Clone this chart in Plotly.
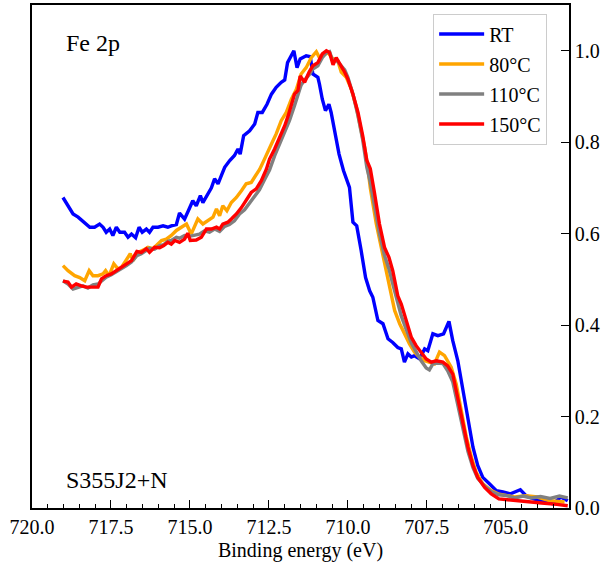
import plotly.graph_objects as go

# ---------------- data ----------------
energy_rt = [719.02, 718.86, 718.70, 718.54, 718.39, 718.28, 718.17, 718.02, 717.86, 717.75,
             717.65, 717.54, 717.44, 717.33, 717.22, 717.07, 716.96, 716.85, 716.72, 716.61,
             716.51, 716.38, 716.28, 716.17, 716.01, 715.85, 715.70, 715.59, 715.43, 715.33,
             715.17, 715.05, 714.91, 714.80, 714.67, 714.59, 714.43, 714.32, 714.22, 714.11,
             714.00, 713.90, 713.74, 713.59, 713.48, 713.41, 713.30, 713.11, 712.95, 712.85,
             712.71, 712.56, 712.42, 712.27, 712.11, 712.00, 711.91, 711.79, 711.71, 711.61,
             711.51, 711.32, 711.19, 711.11, 710.95, 710.90, 710.81, 710.71, 710.60, 710.53,
             710.42, 710.28, 710.14, 709.95, 709.84, 709.72, 709.58, 709.44, 709.31, 709.21,
             709.05, 708.89, 708.73, 708.58, 708.42, 708.31, 708.21, 708.10, 707.99, 707.89,
             707.73, 707.57, 707.47, 707.31, 707.15, 706.97, 706.80, 706.68, 706.52, 706.36,
             706.20, 706.04, 705.89, 705.73, 705.52, 705.30, 705.09, 704.85, 704.54, 704.36,
             704.12, 703.87, 703.50, 703.26, 703.04]
rt = [0.679, 0.661, 0.643, 0.636, 0.628, 0.621, 0.614, 0.614, 0.621, 0.614,
      0.603, 0.610, 0.596, 0.614, 0.603, 0.603, 0.592, 0.599, 0.591, 0.614,
      0.603, 0.610, 0.603, 0.614, 0.614, 0.617, 0.614, 0.617, 0.620, 0.645,
      0.632, 0.650, 0.672, 0.661, 0.683, 0.668, 0.687, 0.700, 0.720, 0.709,
      0.728, 0.745, 0.760, 0.771, 0.785, 0.774, 0.814, 0.825, 0.840, 0.865,
      0.865, 0.883, 0.905, 0.920, 0.931, 0.936, 0.974, 0.989, 1.000, 0.963,
      0.982, 0.989, 0.987, 0.949, 0.942, 0.927, 0.894, 0.869, 0.883, 0.865,
      0.821, 0.774, 0.738, 0.701, 0.625, 0.617, 0.563, 0.504, 0.475, 0.461,
      0.410, 0.403, 0.370, 0.362, 0.351, 0.348, 0.319, 0.337, 0.330, 0.333,
      0.326, 0.348, 0.344, 0.381, 0.377, 0.381, 0.408, 0.366, 0.322, 0.257,
      0.191, 0.133, 0.093, 0.067, 0.053, 0.038, 0.035, 0.031, 0.040, 0.027,
      0.020, 0.016, 0.009, 0.024, 0.016]

energy_80 = [719.02, 718.86, 718.65, 718.49, 718.33, 718.19, 718.07, 717.91, 717.75, 717.67,
             717.56, 717.41, 717.28, 717.17, 717.03, 716.89, 716.80, 716.64, 716.48, 716.33,
             716.17, 716.06, 715.90, 715.75, 715.59, 715.43, 715.27, 715.11, 714.96, 714.75,
             714.59, 714.43, 714.27, 714.16, 714.06, 713.96, 713.83, 713.69, 713.53, 713.37,
             713.22, 713.06, 712.92, 712.79, 712.64, 712.53, 712.42, 712.27, 712.11, 711.95,
             711.79, 711.63, 711.48, 711.32, 711.16, 711.00, 710.90, 710.79, 710.63, 710.47,
             710.32, 710.21, 710.05, 709.89, 709.73, 709.58, 709.47, 709.37, 709.29, 709.10,
             708.94, 708.79, 708.68, 708.52, 708.36, 708.21, 708.05, 707.89, 707.73, 707.57,
             707.41, 707.26, 707.10, 706.94, 706.73, 706.57, 706.41, 706.25, 706.09, 705.94,
             705.73, 705.46, 705.25, 704.98, 704.72, 704.36, 704.00, 703.63, 703.14]
c80 = [0.530, 0.519, 0.508, 0.504, 0.497, 0.519, 0.508, 0.508, 0.512, 0.519,
       0.508, 0.534, 0.523, 0.526, 0.541, 0.556, 0.541, 0.559, 0.564, 0.570,
       0.567, 0.574, 0.585, 0.588, 0.596, 0.607, 0.614, 0.621, 0.599, 0.632,
       0.621, 0.628, 0.636, 0.654, 0.639, 0.661, 0.650, 0.668, 0.679, 0.694,
       0.709, 0.712, 0.727, 0.741, 0.763, 0.781, 0.796, 0.818, 0.847, 0.865,
       0.894, 0.916, 0.949, 0.963, 0.985, 0.998, 0.985, 0.989, 0.996, 0.982,
       0.978, 0.953, 0.942, 0.916, 0.876, 0.825, 0.789, 0.745, 0.700, 0.621,
       0.570, 0.519, 0.483, 0.432, 0.403, 0.381, 0.359, 0.341, 0.330, 0.322,
       0.319, 0.315, 0.341, 0.333, 0.308, 0.271, 0.213, 0.155, 0.111, 0.078,
       0.053, 0.038, 0.031, 0.028, 0.024, 0.027, 0.024, 0.016, 0.013]

energy_110 = [719.02, 718.86, 718.70, 718.55, 718.39, 718.23, 718.07, 717.91, 717.80, 717.65,
              717.49, 717.33, 717.17, 717.01, 716.85, 716.68, 716.54, 716.38, 716.28, 716.12,
              715.96, 715.83, 715.70, 715.59, 715.43, 715.33, 715.17, 715.02, 714.86, 714.70,
              714.54, 714.38, 714.22, 714.06, 713.90, 713.75, 713.59, 713.43, 713.27, 713.11,
              712.95, 712.80, 712.64, 712.48, 712.32, 712.16, 712.00, 711.85, 711.69, 711.58,
              711.48, 711.37, 711.23, 711.11, 710.95, 710.81, 710.68, 710.58, 710.47, 710.37,
              710.24, 710.10, 710.00, 709.84, 709.68, 709.53, 709.40, 709.29, 709.16, 709.00,
              708.84, 708.70, 708.58, 708.42, 708.31, 708.15, 707.99, 707.84, 707.68, 707.52,
              707.42, 707.31, 707.20, 706.99, 706.84, 706.68, 706.52, 706.36, 706.20, 706.04,
              705.89, 705.67, 705.46, 705.22, 704.97, 704.72, 704.45, 704.20, 703.90, 703.60,
              703.30, 703.04]
c110 = [0.497, 0.490, 0.479, 0.483, 0.486, 0.481, 0.488, 0.490, 0.497, 0.505,
        0.510, 0.516, 0.523, 0.530, 0.538, 0.552, 0.556, 0.563, 0.568, 0.566,
        0.574, 0.576, 0.583, 0.585, 0.592, 0.590, 0.596, 0.594, 0.597, 0.599,
        0.606, 0.603, 0.610, 0.605, 0.616, 0.620, 0.628, 0.643, 0.652, 0.668,
        0.683, 0.696, 0.718, 0.739, 0.770, 0.796, 0.823, 0.847, 0.880, 0.901,
        0.925, 0.936, 0.947, 0.960, 0.967, 0.985, 0.996, 0.998, 0.976, 0.980,
        0.969, 0.958, 0.942, 0.905, 0.858, 0.805, 0.745, 0.712, 0.662, 0.600,
        0.552, 0.523, 0.490, 0.447, 0.420, 0.390, 0.361, 0.342, 0.322, 0.306,
        0.302, 0.315, 0.317, 0.316, 0.300, 0.276, 0.228, 0.172, 0.124, 0.088,
        0.065, 0.048, 0.036, 0.029, 0.027, 0.022, 0.026, 0.022, 0.025, 0.021,
        0.026, 0.022]

energy_150 = [719.02, 718.86, 718.75, 718.60, 718.44, 718.28, 718.12, 717.91, 717.80, 717.65,
              717.49, 717.33, 717.17, 717.01, 716.85, 716.68, 716.54, 716.38, 716.28, 716.12,
              715.96, 715.83, 715.70, 715.59, 715.48, 715.33, 715.17, 715.07, 714.99, 714.80,
              714.64, 714.48, 714.32, 714.16, 714.06, 713.96, 713.80, 713.69, 713.53, 713.37,
              713.22, 713.06, 712.90, 712.74, 712.58, 712.48, 712.32, 712.16, 712.00, 711.89,
              711.79, 711.69, 711.58, 711.51, 711.37, 711.23, 711.11, 710.95, 710.81, 710.68,
              710.58, 710.47, 710.37, 710.24, 710.10, 710.00, 709.84, 709.68, 709.53, 709.40,
              709.29, 709.16, 709.00, 708.84, 708.70, 708.58, 708.42, 708.31, 708.15, 707.99,
              707.84, 707.68, 707.52, 707.36, 707.20, 706.99, 706.84, 706.68, 706.52, 706.36,
              706.20, 706.04, 705.89, 705.67, 705.46, 705.22, 704.97, 704.72, 704.25, 703.87,
              703.38, 703.04]
c150 = [0.496, 0.494, 0.483, 0.490, 0.486, 0.483, 0.483, 0.483, 0.501, 0.508,
        0.512, 0.519, 0.526, 0.534, 0.541, 0.561, 0.559, 0.567, 0.559, 0.570,
        0.569, 0.574, 0.581, 0.577, 0.585, 0.581, 0.588, 0.601, 0.585, 0.586,
        0.592, 0.610, 0.610, 0.614, 0.610, 0.621, 0.625, 0.632, 0.643, 0.657,
        0.672, 0.690, 0.698, 0.716, 0.741, 0.763, 0.785, 0.810, 0.836, 0.858,
        0.883, 0.905, 0.913, 0.945, 0.931, 0.953, 0.967, 0.974, 0.993, 1.000,
        0.996, 0.969, 0.985, 0.971, 0.953, 0.938, 0.905, 0.865, 0.814, 0.760,
        0.742, 0.690, 0.621, 0.570, 0.548, 0.519, 0.464, 0.446, 0.410, 0.373,
        0.355, 0.341, 0.326, 0.319, 0.322, 0.319, 0.311, 0.293, 0.242, 0.184,
        0.133, 0.093, 0.067, 0.045, 0.031, 0.020, 0.018, 0.016, 0.013, 0.011,
        0.008, 0.005]

series_names = ["RT", "80°C", "110°C", "150°C"]
series_colors = ["#0000ff", "#ffa500", "#808080", "#ff0000"]
x_ticks = [720.0, 717.5, 715.0, 712.5, 710.0, 707.5, 705.0]
y_ticks = [0.0, 0.2, 0.4, 0.6, 0.8, 1.0]

FONT = "Liberation Serif"

fig = go.Figure()
for i, (xs, ys) in enumerate([(energy_rt, rt), (energy_80, c80), (energy_110, c110), (energy_150, c150)]):
    fig.add_trace(go.Scatter(x=xs, y=ys, mode="lines", name=series_names[i],
                             legendgroup=series_names[i],
                             line=dict(color=series_colors[i], width=3.4)))

fig.update_layout(
    width=607, height=573,
    margin=dict(l=32, r=38, t=5, b=65),
    paper_bgcolor="white", plot_bgcolor="white",
    font=dict(family=FONT, size=20, color="black"),
    showlegend=True,
    legend=dict(x=0.747, y=0.983, xanchor="left", yanchor="top",
                bordercolor="#cccccc", borderwidth=1, bgcolor="rgba(255,255,255,0.8)",
                font=dict(family=FONT, size=20), itemwidth=45, tracegroupgap=1),
    annotations=[
        dict(text="Fe 2p", x=0.059, y=0.924, xref="paper", yref="paper",
             xanchor="left", yanchor="middle", showarrow=False,
             font=dict(family=FONT, size=24)),
        dict(text="S355J2+N", x=0.059, y=0.055, xref="paper", yref="paper",
             xanchor="left", yanchor="middle", showarrow=False,
             font=dict(family=FONT, size=24)),
    ],
)

fig.update_xaxes(
    range=[720, 703], tickvals=x_ticks, ticktext=[f"{v:.1f}" for v in x_ticks],
    ticks="inside", ticklen=8, tickwidth=1.3, tickcolor="black",
    minor=dict(dtick=0.5, ticks="inside", ticklen=4.5, tickwidth=1.2, tickcolor="black", showgrid=False),
    showline=True, linecolor="black", linewidth=1.5, mirror=True,
    showgrid=False, zeroline=False, automargin=False,
    title=dict(text="Binding energy (eV)", font=dict(family=FONT, size=20), standoff=6),
    tickfont=dict(family=FONT, size=20), ticklabelstandoff=0,
)
fig.update_yaxes(
    range=[0, 1.1], side="right", tickvals=y_ticks, ticktext=[f"{v:.1f}" for v in y_ticks],
    ticks="inside", ticklen=8, tickwidth=1.3, tickcolor="black",
    showline=True, linecolor="black", linewidth=1.5, mirror=True,
    showgrid=False, zeroline=False, automargin=False,
    tickfont=dict(family=FONT, size=20), ticklabelstandoff=0,
)

fig.write_html("out.html", config={"displayModeBar": False},
               post_script="document.body.style.margin='0';document.body.style.overflow='hidden';")
